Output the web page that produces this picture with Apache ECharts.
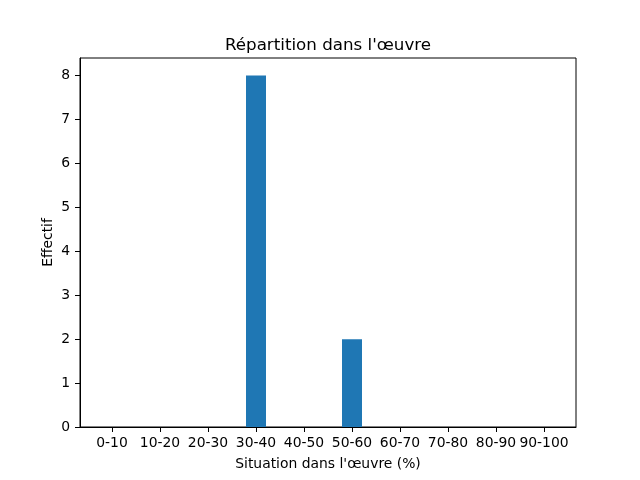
<!DOCTYPE html>
<html>
<head>
<meta charset="utf-8">
<script src="https://cdn.jsdelivr.net/npm/echarts@6/dist/echarts.min.js"></script>
<style>
  html, body { margin: 0; padding: 0; background: #fff; }
</style>
</head>
<body>
<div id="chart" style="width: 640px; height: 480px"></div>
<script>
const categories = ["0-10", "10-20", "20-30", "30-40", "40-50", "50-60", "60-70", "70-80", "80-90", "90-100"];
const counts = [0, 0, 0, 8, 0, 2, 0, 0, 0, 0];
const yTicks = [0, 1, 2, 3, 4, 5, 6, 7, 8];

const font = "DejaVu Sans";
const positions = categories.map((c, i) => i);

const myChart = echarts.init(document.getElementById("chart"));
const option = {
  animation: false,
  title: {
    text: "Répartition dans l'œuvre",
    left: 323,
    top: 32,
    textAlign: "center",
    textStyle: { fontFamily: font, fontSize: 16.7, fontWeight: "normal", color: "#000" },
  },
  grid: {
    left: 80,
    right: 64,
    top: 58,
    bottom: 53,
    show: true,
    borderColor: "#000",
    borderWidth: 1,
    containLabel: false,
  },
  xAxis: {
    type: "value",
    min: -2 / 3,
    max: 9 + 2 / 3,
    name: "Situation dans l'œuvre (%)",
    nameLocation: "middle",
    nameGap: 30,
    nameMoveOverlap: false,
    nameTextStyle: { fontFamily: font, fontSize: 13.9, color: "#000" },
    axisLine: { show: true, onZero: false, lineStyle: { color: "#000", width: 1 } },
    axisTick: { show: true, customValues: positions, length: 5, lineStyle: { color: "#000" } },
    axisLabel: {
      customValues: positions,
      formatter: (v) => categories[Math.round(v)],
      margin: 9,
      fontFamily: font,
      fontSize: 13.9,
      color: "#000",
    },
    splitLine: { show: false },
  },
  yAxis: {
    type: "value",
    min: 0,
    max: 8.4,
    name: "Effectif",
    nameLocation: "middle",
    nameGap: 25,
    nameMoveOverlap: false,
    nameTextStyle: { fontFamily: font, fontSize: 13.9, color: "#000" },
    axisLine: { show: true, onZero: false, lineStyle: { color: "#000", width: 1 } },
    axisTick: { show: true, customValues: yTicks, length: 5, lineStyle: { color: "#000" } },
    axisLabel: {
      customValues: yTicks,
      margin: 10,
      fontFamily: font,
      fontSize: 13.9,
      color: "#000",
    },
    splitLine: { show: false },
  },
  series: [
    {
      type: "bar",
      barWidth: 20,
      itemStyle: { color: "#1f77b4" },
      data: counts.map((v, i) => [i, v]),
    },
  ],
};
myChart.setOption(option);
</script>
</body>
</html>
